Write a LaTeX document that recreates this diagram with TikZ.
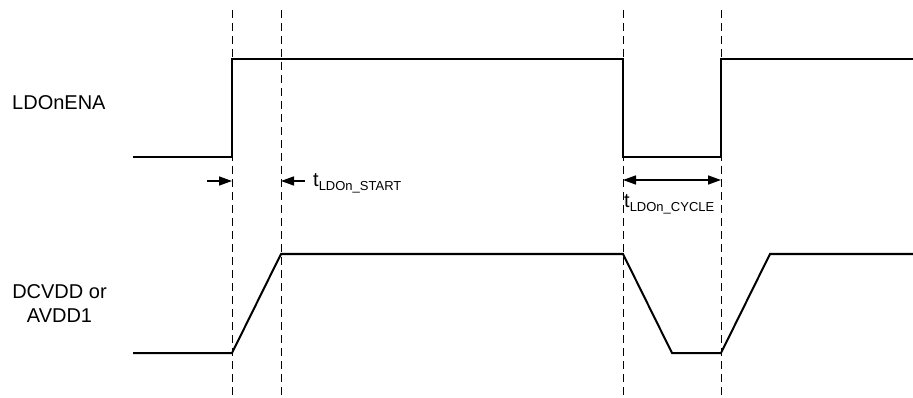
\documentclass[tikz,border=0pt]{standalone}
\usepackage{fontspec}
\setmainfont{Liberation Sans}
\usetikzlibrary{arrows.meta}
\begin{document}
\begin{tikzpicture}[x=1pt,y=-1pt,
  signal/.style={line width=2pt,line join=miter},
  guide/.style={line width=1pt,dash pattern=on 8pt off 5pt},
  dim/.style={line width=1.5pt,-{Triangle[length=13pt,width=9pt]}},
  dimboth/.style={line width=1.5pt,{Triangle[length=13pt,width=9pt]}-{Triangle[length=13pt,width=9pt]}},
  lbl/.style={inner sep=0pt,font=\fontsize{20}{24}\selectfont},
  tlbl/.style={inner sep=0pt,anchor=base west,font=\fontsize{20}{24}\selectfont}]
\useasboundingbox (0,0) rectangle (913,398);
% dashed guides
\foreach \n/\x in {a/232,b/281,c/623,d/721}{
  \coordinate (\n top) at (\x,10);
  \coordinate (\n bot) at (\x,398);
  \draw[guide] (\n top) -- (\n bot);
}
% LDOnENA signal
\draw[signal] (133,157) -- (232,157) -- (232,59) -- (623,59) -- (623,157) -- (721,157) -- (721,59) -- (913,59);
% DCVDD signal
\draw[signal] (133,353) -- (232,353) -- (281,254) -- (623,254) -- (672,353) -- (721,353) -- (770,254) -- (913,254);
% labels
\node[lbl,anchor=base west] (ena) at (12,110) {LDOnENA};
\node[lbl,anchor=base] (dcvdd) at (59.5,322) {\begin{tabular}[b]{@{}c@{}}DCVDD or\\AVDD1\end{tabular}};
% start arrows
\coordinate (s1) at (207,181);
\coordinate (s1t) at (232,181);
\coordinate (s2) at (305,181);
\coordinate (s2t) at (281,181);
\draw[dim] (s1) -- (s1t);
\draw[dim] (s2) -- (s2t);
\node[tlbl] (tstart) at (313,187) {t{\fontsize{13}{13}\selectfont\raisebox{-4pt}{LDOn\_START}}};
% cycle arrow
\coordinate (c1) at (623,180);
\coordinate (c2) at (721,180);
\draw[dimboth] (c1) -- (c2);
\node[tlbl] (tcycle) at (624,208) {t{\fontsize{13}{13}\selectfont\raisebox{-4pt}{LDOn\_CYCLE}}};
\end{tikzpicture}
\end{document}
